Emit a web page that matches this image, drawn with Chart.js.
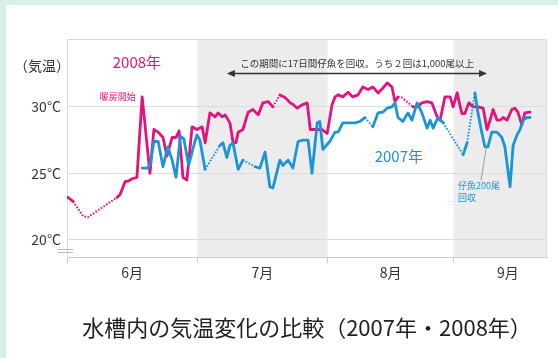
<!DOCTYPE html>
<html>
<head>
<meta charset="utf-8">
<script src="https://cdn.jsdelivr.net/npm/chart.js@4/dist/chart.umd.min.js"></script>
<style>
  html, body { margin: 0; padding: 0; width: 558px; height: 358px; overflow: hidden; background: #d8efe8; }
  #panel { position: absolute; left: 6px; top: 5px; width: 552px; height: 353px; background: #ffffff; }
  canvas { position: absolute; left: 0; top: 0; }
</style>
</head>
<body>
<div id="panel"><canvas id="chart" width="552" height="353"></canvas></div>
<script>
// Day index counted from 1 June; months share the axis as drawn in the source figure.
const monthEdges   = [0, 30, 60, 89];
const monthLabels  = ['6月', '7月', '8月', '9月'];
const monthCenters = [15, 45, 74.5, 101.5];
const shadedMonths = [[30, 60], [89, 110.5]];
const yTicks = [20, 25, 30];

// 2008 air temperature in the tank (°C)
const days2008 = [0.2, 1.4, 3.7, 4.8, 11.5, 12.2, 13.4, 14.0, 15.0, 16.1,
  17.3, 19.1, 20.0, 21.0, 22.1, 23.0, 24.2, 25.1, 25.8, 26.7,
  27.6, 28.8, 29.9, 31.1, 31.8, 32.9, 34.1, 34.8, 35.7, 36.4,
  37.5, 38.2, 38.9, 39.4, 40.5, 41.7, 42.8, 44.0, 45.1, 46.3,
  47.4, 49.0, 50.2, 51.4, 52.0, 53.0, 54.1, 55.3, 56.0, 57.6,
  58.7, 59.9, 61.0, 61.7, 62.4, 63.5, 64.7, 65.8, 67.0, 68.1,
  69.3, 70.4, 71.6, 72.7, 73.7, 74.8, 75.5, 76.2, 77.1, 79.7,
  80.6, 81.7, 82.9, 84.0, 85.2, 85.9, 87.0, 88.2, 88.9, 89.8,
  90.9, 91.6, 92.5, 93.5, 94.6, 95.8, 96.7, 97.4, 98.1, 99.0,
  99.7, 100.4, 101.3, 102.4, 103.1, 103.8, 104.7, 105.4, 106.6];
const temps2008 = [23.2, 22.9, 21.8, 21.7, 23.2, 23.4, 24.4, 24.4, 24.6, 24.7,
  30.75, 25.0, 28.3, 28.1, 27.7, 26.3, 27.7, 27.7, 28.2, 24.7,
  24.5, 28.5, 28.3, 28.5, 27.3, 29.55, 29.25, 29.55, 29.25, 29.4,
  28.8, 27.4, 27.3, 28.1, 28.3, 29.6, 29.8, 29.4, 30.3, 30.4,
  30.0, 30.9, 30.7, 30.3, 30.2, 29.9, 30.15, 30.3, 28.3, 28.3,
  28.3, 28.0, 30.15, 30.75, 30.9, 30.75, 31.1, 30.75, 30.9, 31.5,
  31.3, 31.5, 31.05, 31.4, 31.8, 31.5, 30.4, 30.75, 30.7, 30.0,
  30.0, 30.3, 30.4, 30.3, 29.25, 29.0, 30.75, 30.75, 30.0, 31.05,
  29.5, 29.5, 30.3, 30.0, 30.0, 29.9, 28.3, 29.0, 29.8, 29.0,
  29.0, 29.2, 29.0, 29.8, 29.9, 29.6, 28.65, 29.55, 29.6];
// stretches without readings, drawn dotted
const gaps2008 = [[1.4, 11.5], [47.4, 49.0], [76.2, 79.7]];

// 2007 air temperature in the tank (°C)
const days2007 = [17.3, 18.4, 19.1, 20.0, 21.0, 22.1, 23.2, 24.2, 25.1, 26.1,
  26.9, 28.0, 29.2, 29.9, 30.6, 31.8, 35.2, 35.9, 36.8, 37.5,
  38.2, 39.4, 40.5, 43.3, 44.4, 45.6, 46.7, 47.4, 49.0, 49.7,
  50.9, 52.0, 53.2, 54.3, 55.5, 56.4, 57.6, 58.2, 58.9, 60.5,
  61.7, 62.4, 63.5, 64.7, 66.3, 67.4, 68.6, 70.4, 71.6, 72.7,
  73.7, 74.8, 75.5, 76.2, 77.3, 78.5, 79.4, 80.6, 81.7, 82.9,
  83.6, 84.3, 85.4, 86.6, 91.2, 92.1, 93.9, 94.6, 95.5, 96.2,
  96.9, 97.8, 99.0, 100.1, 100.8, 102.0, 102.7, 103.6, 104.3, 105.0,
  105.9, 106.6];
const temps2007 = [25.4, 25.4, 25.6, 27.4, 27.4, 25.5, 27.0, 26.0, 24.7, 27.8,
  27.6, 25.6, 27.1, 27.9, 27.5, 25.3, 27.1, 27.3, 26.2, 27.1,
  27.3, 25.3, 26.0, 25.5, 25.4, 26.6, 24.0, 23.9, 26.0, 25.6,
  26.0, 25.4, 27.4, 27.5, 27.5, 25.0, 28.8, 28.9, 26.8, 27.4,
  28.1, 28.1, 28.8, 28.8, 28.8, 28.9, 29.2, 28.5, 29.55, 29.6,
  29.9, 30.0, 30.3, 29.2, 28.9, 29.55, 29.0, 30.3, 29.55, 28.4,
  29.0, 28.4, 29.2, 28.8, 26.4, 27.3, 31.05, 29.55, 28.05, 27.0,
  27.0, 28.1, 28.1, 27.7, 27.0, 24.0, 27.1, 27.9, 28.3, 29.0,
  29.2, 29.2];
const gaps2007 = [[31.8, 35.2], [40.5, 43.3], [68.6, 70.4], [86.6, 91.2], [92.1, 93.9]];

const FONT = "'Noto Sans CJK JP', 'Noto Sans', sans-serif";
const PINK = '#e3137e';
const BLUE = '#1b95d4';
const TEXT = '#333333';

Chart.defaults.font.family = FONT;

const toPoints = (xs, ys) => xs.map((d, i) => ({ x: d, y: ys[i] }));
const inGap = (gaps, ctx) => {
  const a = ctx.p0.parsed.x, b = ctx.p1.parsed.x;
  return gaps.some(([s, e]) => a >= s - 1e-6 && b <= e + 1e-6);
};
const seriesStyle = (color, gaps) => ({
  borderColor: color,
  borderWidth: 2.8,
  pointRadius: 0,
  tension: 0,
  fill: false,
  borderJoinStyle: 'round',
  borderCapStyle: 'round',
  segment: {
    borderDash: ctx => inGap(gaps, ctx) ? [1.6, 1.6] : undefined,
    borderWidth: ctx => inGap(gaps, ctx) ? 2 : undefined,
    borderCapStyle: ctx => inGap(gaps, ctx) ? 'butt' : undefined
  }
});

// background bands, plot frame and the notes written on the chart
const decor = {
  id: 'decor',
  beforeDraw(chart) {
    const { ctx, chartArea: a, scales: { x } } = chart;
    ctx.save();
    ctx.fillStyle = '#ececec';
    shadedMonths.forEach(([s, e]) => {
      const l = x.getPixelForValue(s), r = x.getPixelForValue(e);
      ctx.fillRect(l, a.top, r - l, a.bottom - a.top);
    });
    ctx.strokeStyle = '#dadada';
    ctx.lineWidth = 1;
    ctx.beginPath();
    ctx.moveTo(a.left, a.top + 0.5);
    ctx.lineTo(a.right - 0.5, a.top + 0.5);
    ctx.lineTo(a.right - 0.5, a.bottom);
    ctx.stroke();
    ctx.restore();
  },
  afterDraw(chart) {
    const { ctx, chartArea: a, scales: { x, y } } = chart;
    const px = v => x.getPixelForValue(v);
    const py = v => y.getPixelForValue(v);
    ctx.save();
    ctx.textBaseline = 'middle';

    // axis unit
    ctx.fillStyle = TEXT;
    ctx.textAlign = 'center';
    ctx.font = `14px ${FONT}`;
    ctx.fillText('（気温）', a.left - 25, py(33.08));

    // axis break mark
    ctx.strokeStyle = '#bbbbbb';
    ctx.lineWidth = 1;
    [19.32, 19.1].forEach(v => {
      const yy = Math.round(py(v)) + 0.5;
      ctx.beginPath(); ctx.moveTo(a.left - 9, yy); ctx.lineTo(a.left + 6, yy); ctx.stroke();
    });

    // collection period arrow
    const ay = Math.round(py(32.55)) + 0.5;
    const ax0 = px(36.8), ax1 = px(96.7);
    ctx.strokeStyle = '#333333';
    ctx.fillStyle = '#333333';
    ctx.lineWidth = 1.6;
    ctx.beginPath(); ctx.moveTo(ax0 + 4, ay); ctx.lineTo(ax1 - 4, ay); ctx.stroke();
    ctx.beginPath(); ctx.moveTo(ax0, ay); ctx.lineTo(ax0 + 8, ay - 3.5); ctx.lineTo(ax0 + 8, ay + 3.5); ctx.closePath(); ctx.fill();
    ctx.beginPath(); ctx.moveTo(ax1, ay); ctx.lineTo(ax1 - 8, ay - 3.5); ctx.lineTo(ax1 - 8, ay + 3.5); ctx.closePath(); ctx.fill();
    ctx.font = `9.5px ${FONT}`;
    ctx.fillStyle = TEXT;
    ctx.fillText('この期間に17日間仔魚を回収。うち２回は1,000尾以上', px(66.8), py(33.3));

    // series names
    ctx.font = `15px ${FONT}`;
    ctx.fillStyle = PINK;
    ctx.fillText('2008年', px(16.1), py(33.35));
    ctx.fillStyle = BLUE;
    ctx.fillText('2007年', px(76.4), py(26.3));

    // heating start
    ctx.font = `9px ${FONT}`;
    ctx.fillStyle = PINK;
    ctx.fillText('暖房開始', px(11.7), py(30.75));

    // larvae collected
    ctx.strokeStyle = '#888888';
    ctx.lineWidth = 0.8;
    ctx.beginPath(); ctx.moveTo(px(95.3), py(24.45)); ctx.lineTo(px(96.5), py(26.9)); ctx.stroke();
    ctx.textAlign = 'left';
    ctx.font = `9px ${FONT}`;
    ctx.fillStyle = BLUE;
    ctx.fillText('仔魚200尾', px(90.0), py(24.1));
    ctx.fillText('回収', px(90.0), py(23.2));
    ctx.restore();
  }
};

new Chart(document.getElementById('chart'), {
  type: 'line',
  data: {
    datasets: [
      Object.assign({ label: '2008年', data: toPoints(days2008, temps2008), order: 1 }, seriesStyle(PINK, gaps2008)),
      Object.assign({ label: '2007年', data: toPoints(days2007, temps2007), order: 0 }, seriesStyle(BLUE, gaps2007))
    ]
  },
  options: {
    responsive: false,
    devicePixelRatio: 1,
    animation: false,
    layout: { padding: { top: 34, right: 11, left: 0, bottom: 0 } },
    plugins: {
      legend: { display: false },
      tooltip: { enabled: false },
      title: {
        display: true,
        position: 'bottom',
        fullSize: false,
        text: '水槽内の気温変化の比較（2007年・2008年）',
        color: '#222222',
        font: { family: FONT, size: 22, weight: 'normal', lineHeight: 1.2 },
        padding: { top: 27.8, bottom: 16.8 }
      }
    },
    scales: {
      x: {
        type: 'linear',
        min: 0,
        max: 110.5,
        afterBuildTicks: s => {
          s.ticks = monthEdges.map(v => ({ value: v })).concat(monthCenters.map(v => ({ value: v })));
          s.ticks.sort((p, q) => p.value - q.value);
        },
        afterFit: s => { s.height = 30; },
        ticks: {
          autoSkip: false,
          maxRotation: 0,
          padding: 1,
          color: TEXT,
          font: { size: 14 },
          callback: v => {
            const i = monthCenters.indexOf(v);
            return i >= 0 ? monthLabels[i] : '';
          }
        },
        grid: {
          drawOnChartArea: false,
          tickLength: 6,
          color: c => (c.tick && monthEdges.includes(c.tick.value)) ? '#c8c8c8' : 'rgba(0,0,0,0)'
        },
        border: { display: true, color: '#cccccc' }
      },
      y: {
        min: 18.72,
        max: 35.1,
        afterBuildTicks: s => { s.ticks = yTicks.map(v => ({ value: v })); },
        afterFit: s => { s.width = 61; },
        ticks: {
          padding: 6,
          color: TEXT,
          font: { size: 14 },
          callback: v => v + '°C'
        },
        grid: { color: '#dcdcdc', drawTicks: false, tickLength: 0 },
        border: { display: true, color: '#dadada' }
      }
    }
  },
  plugins: [decor]
});
</script>
</body>
</html>
